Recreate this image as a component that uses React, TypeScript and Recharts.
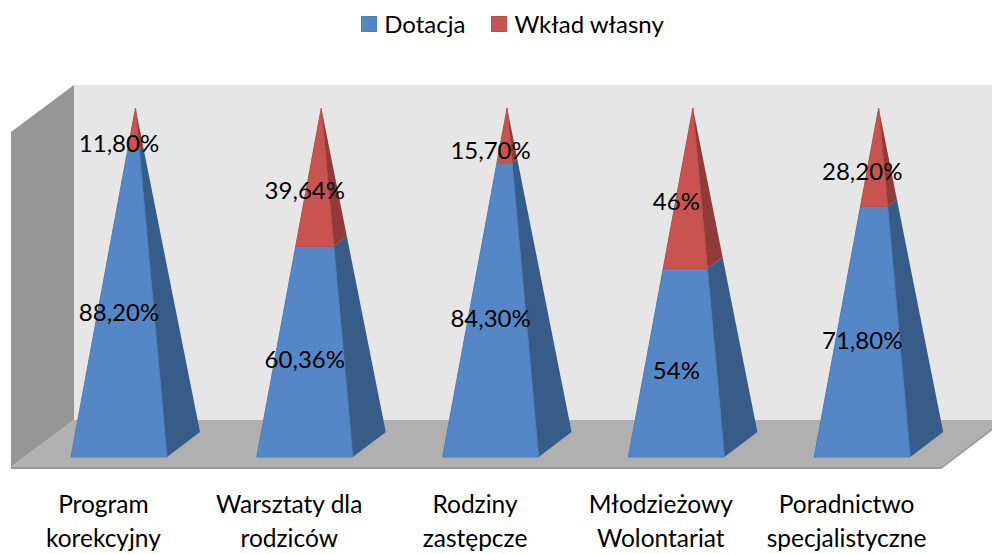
import { BarChart, Bar, XAxis, YAxis, Legend, LabelList } from 'recharts';

const categories = ['Program\nkorekcyjny', 'Warsztaty dla\nrodziców', 'Rodziny\nzastępcze', 'Młodzieżowy\nWolontariat', 'Poradnictwo\nspecjalistyczne'];
const dotacja = [88.2, 60.36, 84.3, 54, 71.8];
const wklad = [11.8, 39.64, 15.7, 46, 28.2];

const chartData = categories.map((name, i) => ({ name, dotacja: dotacja[i], wklad: wklad[i] }));

const FONT = 'Lato, "Open Sans", sans-serif';
const PLOT_TOP = 108;
const PLOT_BOTTOM = 457;
const PLOT_H = PLOT_BOTTOM - PLOT_TOP;
// pseudo 3D depth of the pyramids
const DEPTH_X = 33;
const DEPTH_Y = 25;
const SHIFT_X = 15.5;

const pts = (list: number[][]) => list.map((p) => p.join(',')).join(' ');

const Pyramid = (props: any) => {
    const { x, y, width, height, fill, side, edge } = props;
    const left = x + SHIFT_X;
    const apexX = left + width / 2 + DEPTH_X / 2;
    const f0 = (PLOT_BOTTOM - (y + height)) / PLOT_H;
    const f1 = (PLOT_BOTTOM - y) / PLOT_H;
    const lerp = (a: number, b: number, f: number) => a + (b - a) * f;
    const frontL = (f: number) => [lerp(left, apexX, f), lerp(PLOT_BOTTOM, PLOT_TOP, f)];
    const frontR = (f: number) => [lerp(left + width, apexX, f), lerp(PLOT_BOTTOM, PLOT_TOP, f)];
    const backR = (f: number) => [lerp(left + width + DEPTH_X, apexX, f), lerp(PLOT_BOTTOM - DEPTH_Y, PLOT_TOP, f)];
    return (
        <g>
            <polygon points={pts([frontR(f0), backR(f0), backR(f1), frontR(f1)])} fill={side} />
            <polygon points={pts([frontL(f0), frontR(f0), frontR(f1), frontL(f1)])} fill={fill} stroke={edge} strokeWidth={1} />
        </g>
    );
};

const formatPct = (v: number) => (Number.isInteger(v) ? `${v}%` : `${v.toFixed(2).replace('.', ',')}%`);

const PctLabel = (props: any) => {
    const box = props.viewBox ?? props;
    const { x, y, width, height } = box;
    const mid = y + height / 2;
    const f = (PLOT_BOTTOM - mid) / PLOT_H;
    return (
        <text
            x={x + width / 2 + SHIFT_X}
            y={mid + 3 + 12 * f}
            textAnchor="middle"
            dominantBaseline="central"
            fontFamily={FONT}
            fontSize={24}
            fill="#000"
        >
            {formatPct(props.value)}
        </text>
    );
};

const CategoryTick = (props: any) => {
    const { x, y, payload } = props;
    const lines = String(payload.value).split('\n');
    return (
        <g>
            {lines.map((line, i) => (
                <text key={i} x={x} y={y + 48 + i * 34} textAnchor="middle" fontFamily={FONT} fontSize={24.5} fill="#000">
                    {line}
                </text>
            ))}
        </g>
    );
};

const LegendContent = (props: any) => (
    <div style={{ display: 'flex', justifyContent: 'center', alignItems: 'center', paddingLeft: 33, gap: 26, fontFamily: FONT, fontSize: 24, color: '#000' }}>
        {props.payload.map((item: any) => (
            <span key={item.value} style={{ display: 'flex', alignItems: 'center' }}>
                <span
                    style={{
                        width: 14,
                        height: 14,
                        marginRight: 7,
                        background: item.color,
                        border: `1px solid ${item.payload.edge}`,
                        display: 'inline-block'
                    }}
                />
                {item.value}
            </span>
        ))}
    </div>
);

export default function App() {
    return (
        <div style={{ position: 'absolute', left: 0, top: 0, width: 992, height: 554, overflow: 'hidden', background: '#fff' }}>
            <BarChart
                width={992}
                height={554}
                data={chartData}
                barSize={96}
                margin={{ top: PLOT_TOP - 40, right: 52.5, bottom: 0, left: 10.5 }}
            >
                {/* walls and floor */}
                <polygon points="74,85 1000,85 1000,420 74,420" fill="#e6e6e6" />
                <polygon points="11,132 74,85 74,420 11,467" fill="#969696" />
                <polygon points="11,467 74,420 1003,420 941,467" fill="#b0b0b0" />
                <polyline points="11,468 941,468 1003,421" fill="none" stroke="#9a9a9a" strokeWidth={2} />
                <XAxis dataKey="name" axisLine={false} tickLine={false} height={97} tick={<CategoryTick />} interval={0} />
                <YAxis hide domain={[0, 100]} />
                <Legend verticalAlign="top" height={40} wrapperStyle={{ top: 9, left: 0, width: 992 }} content={<LegendContent />} />
                <Bar
                    dataKey="dotacja"
                    name="Dotacja"
                    stackId="a"
                    fill="#5587c6"
                    isAnimationActive={false}
                    shape={<Pyramid side="#375c87" edge="#4a7ebb" />}
                    {...({ edge: '#4a7ebb' } as any)}
                >
                    <LabelList dataKey="dotacja" content={<PctLabel />} />
                </Bar>
                <Bar
                    dataKey="wklad"
                    name="Wkład własny"
                    stackId="a"
                    fill="#c9544f"
                    isAnimationActive={false}
                    shape={<Pyramid side="#8e3b39" edge="#be4b48" />}
                    {...({ edge: '#be4b48' } as any)}
                >
                    <LabelList dataKey="wklad" content={<PctLabel />} />
                </Bar>
            </BarChart>
        </div>
    );
}
